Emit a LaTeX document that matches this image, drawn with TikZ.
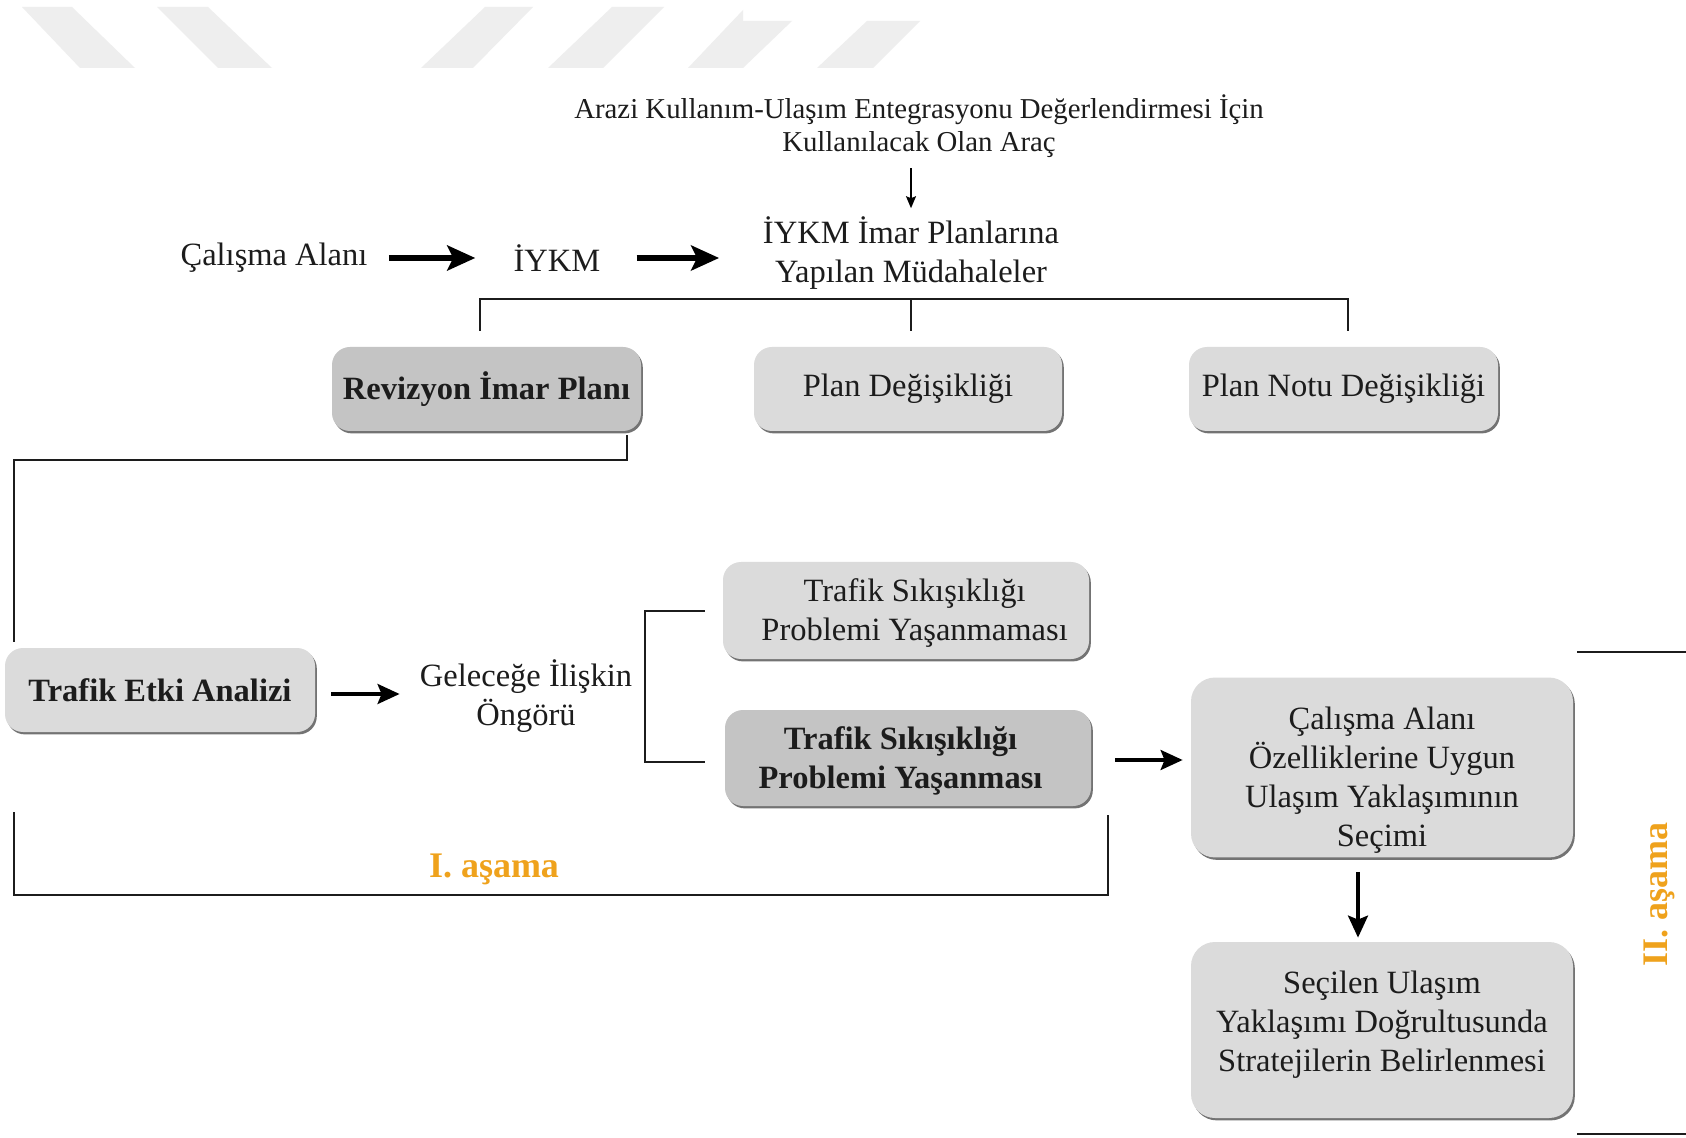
\documentclass[tikz,border=0pt]{standalone}
\usepackage{fontspec}
\setmainfont{Liberation Serif}
\usetikzlibrary{arrows.meta,shadows,calc}
\definecolor{boxlight}{HTML}{DBDBDB}
\definecolor{boxdark}{HTML}{C4C4C4}
\definecolor{wm}{HTML}{EEEEEE}
\definecolor{stage}{HTML}{EFA21C}
\definecolor{ink}{HTML}{1C1C1C}
\newcommand\mainfs{\fontsize{16.25pt}{19.5pt}\selectfont}
\begin{document}
\begin{tikzpicture}[x=0.5pt,y=-0.5pt,
  every node/.style={text=ink},
  txt/.style={inner sep=0pt, align=center, font=\mainfs},
  boxbase/.style={rounded corners=9pt, align=center, inner sep=2pt, font=\mainfs,
    drop shadow={shadow xshift=0.9pt, shadow yshift=-1.2pt, fill=black!55, opacity=1}},
  lightbox/.style={boxbase, fill=boxlight},
  darkbox/.style={boxbase, fill=boxdark, font=\mainfs\bfseries},
  stagelbl/.style={inner sep=0pt, text=stage, font=\fontsize{18pt}{20pt}\selectfont\bfseries},
  bigarrow/.style={line width=2.7pt, -{Stealth[length=14pt,width=12.5pt,inset=3pt]}},
  midarrow/.style={line width=1.7pt, -{Stealth[length=11pt,width=10pt,inset=2pt]}},
  thinarrow/.style={line width=0.8pt, -{Stealth[length=6pt,width=5pt,inset=1pt]}},
  ln/.style={line width=1pt, draw=ink}
]
\useasboundingbox (0,0) rectangle (1686,1138);
\fill[white] (0,0) rectangle (1686,1138);

% watermark bands
\fill[wm] (22,7) -- (72,7) -- (135,68) -- (80,68) -- cycle;
\fill[wm] (157,7) -- (208,7) -- (272,68) -- (218,68) -- cycle;
\fill[wm] (485,7) -- (533,7) -- (473,68) -- (421,68) -- cycle;
\fill[wm] (612,7) -- (664,7) -- (603,68) -- (548,68) -- cycle;
\fill[wm] (688,68) -- (743,10) -- (743,21) -- (792,21) -- (743,68) -- cycle;
\fill[wm] (867,21) -- (920,21) -- (873,68) -- (817,68) -- cycle;

% text nodes
\node[txt, font=\fontsize{14.4pt}{16.5pt}\selectfont] (top1) at (919,126.5)
  {Arazi Kullanım-Ulaşım Entegrasyonu Değerlendirmesi İçin\\Kullanılacak Olan Araç};
\node[txt] (ca) at (274,258) {Çalışma Alanı};
\node[txt] (iykm) at (557,258) {İYKM};
\node[txt] (ip) at (911,253) {İYKM İmar Planlarına\\Yapılan Müdahaleler};

% boxes
\node[darkbox, minimum width=154.5pt, minimum height=42pt] (rev) at (486.5,389) {Revizyon İmar Planı};
\node[lightbox, minimum width=154pt, minimum height=42pt] (pd) at (908,389) {Plan Değişikliği};
\node[lightbox, minimum width=154.5pt, minimum height=42pt] (pnd) at (1343.5,389) {Plan Notu Değişikliği};
\node[lightbox, font=\mainfs\bfseries, minimum width=155pt, minimum height=42pt] (tea) at (160,690) {Trafik Etki Analizi};
\node[txt] (gel) at (526,696.5) {Geleceğe İlişkin\\Öngörü};
\node[lightbox, minimum width=183pt, minimum height=48.5pt] (tsy1) at (906,610.5)
  {\hspace*{8.6pt}\rule{0pt}{14.2pt}Trafik Sıkışıklığı\\\hspace*{8.6pt}Problemi Yaşanmaması};
\node[darkbox, minimum width=183pt, minimum height=48pt] (tsy2) at (908,758)
  {\rule{0pt}{14.7pt}Trafik Sıkışıklığı\hspace*{7.5pt}\\Problemi Yaşanması\hspace*{7.5pt}};
\node[lightbox, minimum width=191pt, minimum height=87.5pt, rounded corners=12pt] (cal) at (1382,767.5)
  {\rule{0pt}{24pt}Çalışma Alanı\\Özelliklerine Uygun\\Ulaşım Yaklaşımının\\Seçimi};
\node[lightbox, minimum width=191pt, minimum height=88pt, rounded corners=12pt] (sec) at (1382,1030)
  {Seçilen Ulaşım\\Yaklaşımı Doğrultusunda\\Stratejilerin Belirlenmesi\rule[-8.5pt]{0pt}{0pt}};

% stage labels
\node[stagelbl] (s1) at (494,869) {I. aşama};
\node[stagelbl, rotate=90] (s2) at (1659,894) {II. aşama};

% connectors
\draw[bigarrow, shorten <=10.5pt, shorten >=19pt] (ca.east) -- (iykm.west);
\draw[bigarrow, shorten <=18pt, shorten >=21.75pt] (iykm.east) -- (iykm.east -| ip.west);
\draw[thinarrow, shorten <=5pt, shorten >=4pt] (top1.south -| ip.north) -- (ip.north);

\draw[ln] ([xshift=-3.25pt,yshift=8pt]rev.north) -- ++(0,-32) -| ([xshift=2.25pt,yshift=8pt]pnd.north);
\draw[ln] ([xshift=1.5pt,yshift=8pt]pd.north) -- ++(0,-32);

\draw[ln] ([xshift=-7pt,yshift=-2pt]rev.south east) -- ++(0,25) -| ([xshift=4.5pt,yshift=3pt]tea.north west);

\draw[midarrow, shorten <=8pt, shorten >=10pt] ([yshift=-2pt]tea.east) -- ([yshift=-2pt]tea.east -| gel.west);
\draw[ln] ([xshift=-9pt]tsy1.west) -- ++(-60,0) |- ([xshift=-10pt,yshift=-2pt]tsy2.west);
\draw[midarrow, shorten <=12pt, shorten >=4pt] ([yshift=-1pt]tsy2.east) -- ([yshift=-1pt]tsy2.east -| cal.west);
\draw[midarrow, shorten <=7pt, shorten >=2pt] ([xshift=-12pt]cal.south) -- ([xshift=-12pt]sec.north);

\draw[ln] ([xshift=4.5pt,yshift=-40pt]tea.south west) -- ++(0,83) -| ([xshift=8.5pt,yshift=-4.5pt]tsy2.south east);

\draw[ln] (1577,652) -- (1686,652);
\draw[ln] (1577,1134) -- (1686,1134);
\end{tikzpicture}
\end{document}
